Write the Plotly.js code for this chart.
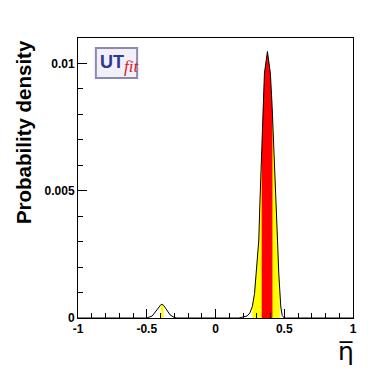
<!DOCTYPE html>
<html>
<head>
<meta charset="utf-8">
<script src="https://cdn.plot.ly/plotly-3.0.1.min.js"></script>
<style>
  body { margin: 0; background: #fff; }
  #chart { width: 392px; height: 374px; }
</style>
</head>
<body>
<div id="chart"></div>
<script>
// eta-bar probability density
const etaX = [-1, -0.5, -0.46, -0.43, -0.41, -0.398, -0.39, -0.378, -0.36, -0.33, -0.3, -0.28,
    0.17, 0.2, 0.23, 0.25, 0.268, 0.284, 0.297, 0.315, 0.322, 0.332, 0.336, 0.339, 0.346, 0.356,
    0.3775, 0.399, 0.412, 0.414, 0.419, 0.431, 0.441, 0.451, 0.46, 0.468, 0.475, 0.485, 0.5, 1];
const density = [0, 0, 0.00008, 0.0003, 0.00046, 0.00052, 0.00054, 0.0005, 0.00036, 0.00012, 0.00002, 0,
    0, 0.00003, 0.00008, 0.0002, 0.00045, 0.00097, 0.00176, 0.00306, 0.00437, 0.0057, 0.0063, 0.00699, 0.0083, 0.00962,
    0.01047, 0.00962, 0.0083, 0.008, 0.00699, 0.0057, 0.00437, 0.00306, 0.00176, 0.00097, 0.00043, 0.0001, 0, 0];

// probability intervals
const yellowBands = [[-0.398, -0.378], [0.268, 0.468]];
const redBands = [[0.336, 0.414]];

const xTickVals = [-1, -0.5, 0, 0.5, 1];
const xTickText = ['-1', '-0.5', '0', '0.5', '1'];
const yTickVals = [0, 0.005, 0.01];
const yTickText = ['0', '0.005', '0.01'];

function bandTrace(band, color) {
    const bx = [], by = [];
    for (let i = 0; i < etaX.length; i++) {
        if (etaX[i] >= band[0] && etaX[i] <= band[1]) {
            bx.push(etaX[i]);
            by.push(density[i]);
        }
    }
    return {x: bx, y: by, mode: 'lines', fill: 'tozeroy', fillcolor: color,
        line: {width: 0, color: color}, hoverinfo: 'skip'};
}

const traces = [];
yellowBands.forEach(b => traces.push(bandTrace(b, '#ffff00')));
redBands.forEach(b => traces.push(bandTrace(b, '#ff0000')));
traces.push({x: etaX, y: density, mode: 'lines', line: {color: '#000', width: 1}});

const tickFont = {family: 'Liberation Sans, Arial, sans-serif', size: 12, color: '#000', weight: 'bold'};

const layout = {
    width: 392,
    height: 374,
    margin: {l: 78, r: 39, t: 38, b: 56},
    showlegend: false,
    paper_bgcolor: '#fff',
    plot_bgcolor: '#fff',
    xaxis: {
        range: [-1, 1],
        tickvals: xTickVals,
        ticktext: xTickText,
        ticks: 'inside',
        ticklen: 9,
        tickcolor: '#000',
        minor: {dtick: 0.1, ticks: 'inside', ticklen: 5, tickcolor: '#000'},
        showgrid: false,
        zeroline: false,
        showline: true,
        linecolor: '#000',
        mirror: true,
        tickfont: tickFont
    },
    yaxis: {
        range: [0, 0.011],
        tickvals: yTickVals,
        ticktext: yTickText,
        ticks: 'inside',
        ticklen: 9,
        tickcolor: '#000',
        minor: {dtick: 0.001, ticks: 'inside', ticklen: 5, tickcolor: '#000'},
        showgrid: false,
        zeroline: false,
        showline: true,
        linecolor: '#000',
        mirror: true,
        tickfont: tickFont
    },
    shapes: [{
        type: 'rect', xref: 'paper', yref: 'paper',
        x0: 0.065, x1: 0.215, y0: 0.857, y1: 0.964,
        fillcolor: '#f1f0f8', line: {color: '#8a8ab0', width: 2}
    }],
    annotations: [
        {xref: 'paper', yref: 'paper', x: 0.074, y: 0.958, xanchor: 'left', yanchor: 'top',
            text: 'UT', showarrow: false,
            font: {family: 'Liberation Sans, Arial, sans-serif', size: 18, color: '#2b3990', weight: 'bold'}},
        {xref: 'paper', yref: 'paper', x: 0.16, y: 0.938, xanchor: 'left', yanchor: 'top',
            text: '<i>fit</i>', showarrow: false,
            font: {family: 'Liberation Serif, Times New Roman, serif', size: 17, color: '#d6202a'}},
        {xref: 'paper', yref: 'paper', x: -0.2, y: 0.664, xanchor: 'center', yanchor: 'middle',
            text: 'Probability density', showarrow: false, textangle: -90,
            font: {family: 'Liberation Sans, Arial, sans-serif', size: 20.5, color: '#000', weight: 'bold'}},
        {xref: 'paper', yref: 'paper', x: 1.01, y: -0.06, xanchor: 'right', yanchor: 'top',
            text: 'η\u0305', showarrow: false,
            font: {family: 'DejaVu Sans, sans-serif', size: 25, color: '#000'}}
    ]
};

Plotly.newPlot('chart', traces, layout, {displayModeBar: false, staticPlot: true});
</script>
</body>
</html>
